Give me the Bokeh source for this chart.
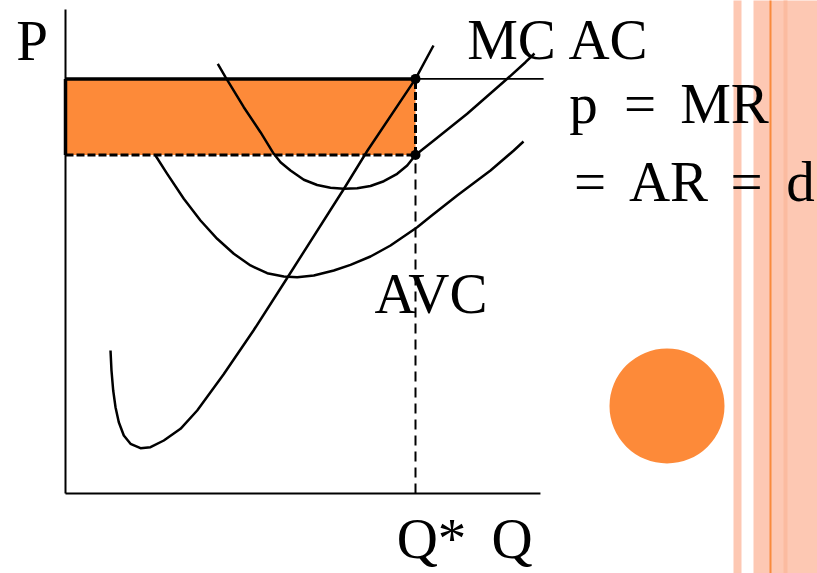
from bokeh.plotting import figure
from bokeh.models import Range1d
from bokeh.core.properties import value
from bokeh.embed import file_html
from bokeh.resources import INLINE

# ---------------- data (economic units: quantity Q, price P) ----------------
mc_q = [12.86, 13.14, 13.63, 14.29, 15.23, 16.66, 18.57, 21.43, 24.29, 28.09, 32.86,
        37.63, 45.14, 53.71, 63.43, 79.43, 86.29, 100.0, 105.14]
mc_p = [41.39, 35.60, 29.81, 24.98, 20.64, 16.79, 14.38, 13.11, 13.40, 15.34, 18.73,
        24.02, 34.44, 47.18, 62.52, 87.99, 99.28, 120.0, 129.67]

ac_q = [43.51, 45.71, 50.94, 55.71, 59.51, 61.43, 64.29, 68.09, 71.91, 75.71, 79.51,
        83.34, 87.14, 90.94, 94.77, 97.63, 100.0, 105.23, 114.77, 126.2, 131.43, 134.0]
ac_p = [124.37, 120.49, 111.81, 104.57, 98.32, 95.89, 93.49, 90.80, 89.29, 88.51, 88.19,
        88.33, 89.0, 90.39, 92.53, 94.93, 98.0, 102.17, 109.9, 120.03, 124.83, 127.35]

avc_q = [25.71, 29.06, 33.8, 38.57, 43.34, 48.09, 52.86, 57.63, 62.37, 66.2, 70.94,
         76.66, 81.43, 87.14, 92.86, 100.49, 104.29, 111.91, 121.43, 128.09, 130.86]
avc_p = [97.83, 92.53, 85.30, 79.02, 73.72, 69.38, 66.0, 63.76, 62.81, 62.61, 63.10,
         64.54, 66.19, 68.60, 71.78, 77.08, 80.17, 86.25, 93.49, 99.28, 101.88]

q_star = 100.0
price = 120.0
ac_at_q_star = 98.0
q_axis_max = 135.7
p_axis_max = 140.1
price_line_end = 136.6

axis_labels = ["P", "Q*", "Q"]
curve_labels = ["MC", "AC", "AVC"]
equation_tokens = ["p", "=", "MR", "=", "AR", "=", "d"]

# ---------------- layout (picture pixels -> data units) ----------------
W, H = 817, 573
ORIGIN_X, ORIGIN_Y = 65.0, 493.0
PX_Q, PX_P = 3.5, 3.455
TEXT_SHIFT = 24  # rendered baseline sits this many px below the anchor


def qx(px):
    return (px - ORIGIN_X) / PX_Q


def py(px):
    return (ORIGIN_Y - px) / PX_P


p = figure(width=W, height=H, output_backend="svg", toolbar_location=None,
           x_range=Range1d(qx(0), qx(W)), y_range=Range1d(py(H), py(0)),
           x_axis_type=None, y_axis_type=None, min_border=0,
           outline_line_color=None, background_fill_color="white")
p.grid.visible = False

# decorative stripes on the right edge
salmon = "#FDC8B3"
p.quad(left=[qx(733)], right=[qx(741)], bottom=[py(600)], top=[py(-20)],
       fill_color=salmon, line_color=None)
p.quad(left=[qx(753)], right=[qx(830)], bottom=[py(600)], top=[py(-20)],
       fill_color=salmon, line_color=None)
p.quad(left=[qx(783)], right=[qx(787)], bottom=[py(600)], top=[py(-20)],
       fill_color="#FBBBA0", line_color=None)
p.quad(left=[qx(769)], right=[qx(771)], bottom=[py(600)], top=[py(-20)],
       fill_color="#F98A3C", line_color=None)

# decorative circle
p.scatter(x=[qx(666.5)], y=[py(405.5)], size=115, marker="circle",
          fill_color="#FD8A39", line_color=None)

# profit rectangle
orange = "#FD8A39"
p.quad(left=[0], right=[q_star], bottom=[ac_at_q_star], top=[price],
       fill_color=orange, line_color=None)

# axes
p.line(x=[0, 0], y=[0, p_axis_max], line_color="black", line_width=2)
p.line(x=[0, q_axis_max], y=[0, 0], line_color="black", line_width=2)

# price line
p.line(x=[0, price_line_end], y=[price, price], line_color="black", line_width=1.8)

# curves
for qs, ps in ((mc_q, mc_p), (ac_q, ac_p), (avc_q, avc_p)):
    p.line(x=qs, y=ps, line_color="black", line_width=2.5, line_join="round")

# rectangle edges
p.line(x=[0, q_star], y=[price, price], line_color="black", line_width=3.5)
p.line(x=[0, 0], y=[ac_at_q_star, price], line_color="black", line_width=3.5)
p.line(x=[0, q_star], y=[ac_at_q_star, ac_at_q_star], line_color="black",
       line_width=3, line_dash="8 3")
p.line(x=[q_star, q_star], y=[ac_at_q_star, price], line_color="black",
       line_width=3, line_dash="8 3")
p.line(x=[q_star, q_star], y=[0, ac_at_q_star], line_color="black",
       line_width=2, line_dash="10 6")

# points
p.scatter(x=[q_star, q_star], y=[price, ac_at_q_star], size=10, marker="circle",
          fill_color="black", line_color=None)

# texts
font = value("Liberation Serif")
size = "57px"


def label(txt, cx, base):
    p.text(x=[qx(cx)], y=[py(base - TEXT_SHIFT)], text=[txt], text_font=font,
           text_font_size=size, text_align="center", text_baseline="alphabetic",
           text_color="black")


label(axis_labels[0], 31.5, 64)
label(axis_labels[1], 431, 562)
label(axis_labels[2], 511.5, 562)
label(curve_labels[0], 511, 63)
label(curve_labels[1], 607.5, 63)
label(curve_labels[2], 430.5, 317)

eq_pos = [(583, 127), (639.5, 127), (724, 127),
          (589.5, 205), (668, 205), (746, 205), (800, 205)]
for tok, (cx, base) in zip(equation_tokens, eq_pos):
    label(tok, cx, base)

open("out.html", "w").write(file_html(p, INLINE))
